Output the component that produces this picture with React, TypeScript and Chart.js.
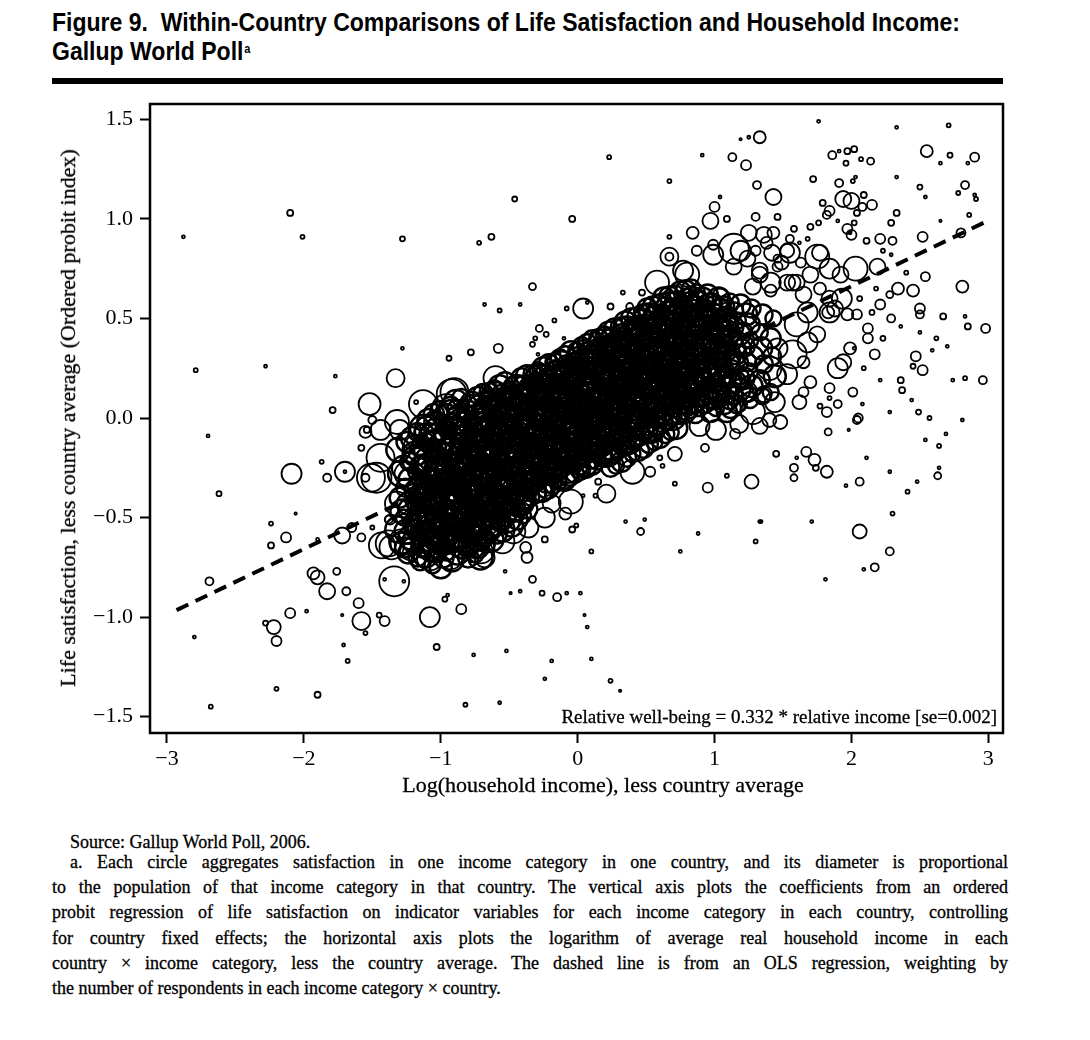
import React, { useEffect, useLayoutEffect, useRef } from "react";
import { Chart, registerables } from "chart.js";

Chart.register(...registerables);

// ---- axis ticks ----
const xTickValues = [-3, -2, -1, 0, 1, 2, 3];
const xTickLabels = ["\u22123", "\u22122", "\u22121", "0", "1", "2", "3"];
const yTickValues = [-1.5, -1, -0.5, 0, 0.5, 1, 1.5];
const yTickLabels = ["\u22121.5", "\u22121.0", "\u22120.5", "0.0", "0.5", "1.0", "1.5"];

// ---- OLS fit line (relative well-being = 0.332 * relative income) ----
const fitLineX = [-2.93, 2.98];
const fitLineY = [-0.965, 0.985];

// ---- circles: [log income less country avg, life sat less country avg, size] ----
const outliersLeft = [
  [-2.88,0.91,1.5],[-2.10,1.03,3],[-2.01,0.91,2],[-1.28,0.90,2.5],[-1.28,0.35,1.5],[-2.79,0.24,2],
  [-2.28,0.26,1.5],[-1.77,0.21,1.5],[-1.79,0.04,3],[-1.33,0.20,9],[-1.52,0.07,11],[-1.13,0.07,14],
  [-2.70,-0.09,1.5],[-2.62,-0.38,2.5],[-2.09,-0.28,10],[-1.87,-0.22,2],[-1.83,-0.30,4],[-1.70,-0.27,10],
  [-1.70,-0.27,1.5],[-1.58,-0.15,3],[-1.51,-0.30,14],[-1.44,-0.20,14],[-1.55,-0.07,6],[-1.30,-0.06,10],
  [-1.32,-0.02,12],[-2.24,-0.53,2],[-2.06,-0.48,1.2],[-2.13,-0.60,5],[-2.24,-0.64,3],[-1.90,-0.61,1.5],
  [-1.72,-0.59,8],[-1.65,-0.55,4.5],[-1.58,-0.60,4],[-1.50,-0.55,2],[-1.43,-0.64,13],[-1.36,-0.65,12],
  [-1.29,-0.62,12],[-1.38,-0.51,4],[-2.69,-0.82,4],[-1.93,-0.78,6],[-1.90,-0.80,7],[-1.83,-0.87,8],
  [-1.76,-0.77,3.5],[-1.69,-0.87,4],[-1.34,-0.82,15],[-1.41,-0.81,1.5],[-1.27,-0.82,1.5],[-1.60,-0.93,5],
  [-1.98,-0.97,1.5],[-2.10,-0.98,5],[-1.72,-0.99,1.2],[-1.58,-1.02,9],[-1.55,-1.08,2],[-1.45,-0.99,2.5],
  [-1.41,-1.02,5],[-1.08,-1.00,10],[-1.03,-1.15,3],[-2.22,-1.05,7],[-2.28,-1.03,2.5],[-2.20,-1.12,5],
  [-2.80,-1.10,1.5],[-1.71,-1.14,1.5],[-1.68,-1.22,2],[-2.20,-1.36,2],[-1.90,-1.39,3],[-2.68,-1.45,2],
  [-1.18,0.08,2],[-0.92,0.12,15],[-1.44,-0.06,10],[-1.54,-0.06,3],[-1.50,-0.01,4],[-1.55,-0.30,4],
  [-1.47,-0.30,15],[-1.17,-0.16,15],[-1.25,-0.28,12],[-1.37,-0.51,5],[-1.32,-0.43,12],[-1.38,-0.63,13],
  [-1.28,-0.63,12],[-1.22,-0.66,11],[-1.08,-0.70,13],[-0.93,-0.70,12],[-0.71,-0.66,14],[-1.10,-0.65,10]
];

const outliersBottom = [
  [-0.24,-0.61,3],[-0.38,-0.65,5.5],[-0.37,-0.70,5.5],[-0.53,-0.77,1.5],[-0.33,-0.81,3.5],[-0.49,-0.88,1.2],
  [-0.42,-0.87,1.5],[-0.26,-0.88,2.5],[-0.15,-0.90,4],[-0.08,-0.88,1.5],[0.02,-0.88,1.5],[0.05,-0.99,1.2],
  [0.07,-1.05,1.5],[0.10,-1.21,1.5],[0.24,-1.32,2],[0.31,-1.37,1.2],[-0.19,-1.22,1.5],[-0.24,-1.31,1.5],
  [-0.52,-1.17,1.5],[-0.76,-1.19,1.5],[-0.85,-0.96,5],[-0.97,-0.91,2.5],[-0.95,-0.89,1.5],[-0.82,-1.44,2],
  [-0.57,-1.43,1.5],[0.10,-0.67,2],[0.35,-0.52,1.5],[0.49,-0.51,1.5],[0.46,-0.57,3.5],[-0.04,-0.56,3],
  [-0.01,-0.54,2],[0.75,-0.67,1.5],[0.88,-0.58,1.5],[0.71,-0.33,2],[0.95,-0.35,5],[1.09,-0.29,2],
  [0.53,-0.27,5],[0.62,-0.24,2],[0.60,-0.20,2.5],[0.21,-0.38,9],[0.04,-0.39,1.5],[0.13,-0.39,2],
  [0.15,-0.32,3],[-0.19,-0.43,9],[-0.09,-0.48,6],[-0.47,-0.57,12],[1.27,-0.32,7],[1.45,-0.18,3],
  [1.34,-0.52,1.5],[1.30,-0.62,2],[0.40,-0.27,12],[0.71,-0.18,7],[0.93,-0.15,4],[1.15,-0.08,5],
  [0.02,-0.26,10],[-0.80,-0.62,14],[-0.55,-0.62,12],[-0.68,-0.70,10],[-0.36,-0.55,10],[-0.24,-0.50,10],
  [-0.05,-0.42,12],[1.13,0.12,10],[1.01,-0.06,10],[0.89,-0.04,10],[1.33,-0.04,8],[1.18,-0.03,9]
];

const outliersRight = [
  [1.40,-0.01,7],[1.60,-0.20,1.5],[1.67,-0.17,5],[1.73,-0.21,6],[1.74,-0.25,3],[1.58,-0.25,4],
  [1.58,-0.30,3.5],[1.82,-0.27,6],[1.83,-0.07,3.5],[1.98,-0.06,1.2],[2.04,-0.01,4],[2.11,-0.20,1.5],
  [1.96,-0.34,1.5],[2.06,-0.32,4],[2.28,-0.27,1.5],[2.41,-0.37,2],[2.48,-0.32,1.5],[2.54,-0.11,1.5],
  [2.64,-0.14,2],[2.69,-0.08,1.5],[2.64,-0.25,1.5],[2.63,-0.29,3.5],[2.81,-0.01,1.5],[2.30,-0.48,2],
  [2.06,-0.57,7],[2.28,-0.67,4],[2.17,-0.75,4],[2.09,-0.76,1.5],[1.81,-0.81,1.5],[1.71,-0.52,1.5],
  [1.33,-0.52,1.5],[1.48,-0.02,7],[2.01,0.13,4.5],[2.05,0.00,4.5],[2.08,0.07,1.5],[1.90,0.07,4],
  [1.84,0.10,2],[1.82,0.03,5],[1.77,0.06,2.5],[2.74,0.19,1.5],[2.83,0.20,2],[2.96,0.19,4],
  [2.28,0.03,1.5],[2.49,0.03,2.5],[2.57,0.00,2],[2.44,0.09,1.5],[2.36,0.19,3],[2.37,0.14,3],
  [2.21,0.19,1.5],[2.09,0.25,2],[2.47,0.31,5],[2.52,0.24,5],[2.45,0.26,2.5],[2.17,0.32,5],
  [2.02,0.35,1.5],[2.12,0.40,5],[2.23,0.40,2.5],[2.12,0.45,5],[2.04,0.52,5],[2.59,0.34,1.5],
  [2.70,0.36,1.5],[2.62,0.40,2],[2.50,0.43,1.5],[2.98,0.45,4.5],[2.85,0.46,3],[2.83,0.51,1.5],
  [2.67,0.51,3],[2.36,0.46,1.5],[2.29,0.50,4],[2.50,0.52,4],[2.50,0.55,5],[2.15,0.53,2.5],
  [2.21,0.57,5],[2.06,0.60,2.5],[1.93,0.60,10],[1.88,0.55,8],[1.83,0.53,6],[1.97,0.52,6]
];

const outliersTop = [
  [1.76,1.49,1.5],[2.33,1.46,1.5],[2.71,1.47,2],[1.33,1.41,6],[1.25,1.41,1.5],[1.19,1.40,1.2],
  [1.13,1.31,4],[1.23,1.27,5],[1.86,1.32,4],[1.91,1.34,1.5],[1.97,1.34,3],[2.02,1.35,3],
  [1.96,1.28,2.5],[2.07,1.30,2],[2.14,1.29,3.5],[2.55,1.34,6],[2.65,1.28,1.5],[2.72,1.32,2.5],
  [2.90,1.31,4.5],[2.85,1.28,1.5],[2.03,1.21,1.5],[2.01,1.19,2],[1.91,1.18,4],[1.72,1.20,3],
  [1.31,1.17,4],[1.43,1.11,8],[2.33,1.21,1.5],[2.50,1.16,2.5],[2.54,1.11,1.5],[2.83,1.17,4],
  [2.78,1.13,2],[2.90,1.12,1.5],[2.91,1.10,2],[1.94,1.10,8],[2.00,1.09,8],[2.09,1.12,3],
  [2.15,1.07,5],[1.79,1.08,3],[1.84,1.04,5],[1.82,1.02,4],[2.08,1.06,4],[2.04,1.03,3],
  [2.02,0.98,2.5],[1.90,0.99,1.5],[1.76,0.98,2.5],[1.70,0.96,3],[2.33,1.03,3],[2.29,0.98,3],
  [2.65,0.99,1.2],[2.86,1.02,2],[1.62,0.88,1.5],[1.68,0.90,2],[1.09,1.00,3],[1.30,1.01,4],
  [1.46,1.01,3],[1.58,0.95,3],[1.97,0.95,5],[1.99,0.93,1.5],[2.00,0.92,5],[2.11,0.89,3],
  [2.21,0.90,5],[2.30,0.89,4],[2.52,0.91,5],[2.80,0.93,4.5],[2.29,0.82,1.5],[2.23,0.84,2],
  [2.40,0.73,2],[2.54,0.71,4.5],[2.81,0.66,6],[2.18,0.65,2],[2.34,0.65,6],[2.45,0.64,6],
  [2.28,0.62,3.5],[2.03,0.75,12],[2.19,0.76,8],
  [0.23,1.31,2],[0.91,1.32,1.5],[0.67,1.19,2],[-0.46,1.10,2.5],[-0.04,1.00,3],[-0.63,0.91,3],
  [-0.72,0.88,2],[0.67,0.91,2],[1.00,1.06,5],[1.04,1.11,1.5],[0.97,0.99,8],[0.84,0.93,6],
  [0.67,0.81,9],[0.67,0.81,4],[0.87,0.84,5],[0.99,0.82,10],[0.80,0.72,12],[0.58,0.68,12],
  [-0.33,0.66,3.5],[-0.68,0.57,1.5],[-0.57,0.54,2],[-0.42,0.57,1.5],[0.04,0.55,10],[0.07,0.58,1.5],
  [-0.08,0.55,2],[0.24,0.56,3],[0.33,0.63,2],[0.47,0.63,3],[0.38,0.56,3.5],[0.51,0.53,8],
  [0.35,0.49,3.5],[0.41,0.49,2.5],[-0.17,0.49,2],[-0.28,0.45,3.5],[-0.23,0.42,2.5],[-0.31,0.40,2],
  [-0.33,0.37,2.5],[-0.10,0.40,1.5],[-0.29,0.32,1.5],[-0.58,0.35,4.5],[-0.78,0.33,3],[-0.94,0.30,2.5],
  [0.21,0.43,4],[-0.60,0.20,12],[-0.30,0.21,10],[-0.14,0.22,8],[-0.90,0.13,14],[-0.96,0.05,14],
  [0.14,0.30,8],[1.25,0.93,8],[1.43,0.93,6],[1.55,0.90,4],[0.99,0.87,5],[1.19,0.84,10],
  [1.30,0.84,5],[1.38,0.88,6],[1.53,0.84,7],[1.46,0.80,4],[0.77,0.74,10],[1.14,0.76,8],
  [1.33,0.74,8],[1.46,0.76,5],[1.57,0.68,8],[1.63,0.78,5],[1.28,0.66,8],[1.41,0.64,6],
  [1.04,0.61,8],[1.14,0.85,15],[1.36,0.92,8],[1.55,0.83,10],[1.42,0.83,8],[1.24,0.80,8],
  [1.49,0.78,7],[1.75,0.81,12],[1.77,0.83,8],[1.84,0.75,10],[1.92,0.72,8],[1.70,0.72,8],
  [1.60,0.68,8],[1.77,0.65,6],[1.65,0.62,8],[1.53,0.68,8],[1.41,0.68,10],[1.33,0.72,8],
  [1.68,0.53,10],[1.60,0.47,12],[1.84,0.60,8],[1.84,0.53,10],[1.75,0.42,8],[1.68,0.38,10],
  [1.57,0.32,14],[1.46,0.35,10],[1.40,0.25,12],[1.53,0.22,10],[1.65,0.28,6],[1.70,0.18,6],
  [1.65,0.13,5],[1.62,0.08,7],[1.44,0.08,10],[1.36,0.12,8],[1.84,0.15,5],[1.90,0.25,10],
  [1.94,0.28,8],[1.99,0.35,6],[1.24,0.13,10],[1.28,0.03,12],[1.18,0.07,8]
];

const cloudLeft = [
  [-1.31,-0.16,12],[-1.29,-0.28,13],[-1.30,-0.40,10],[-1.28,-0.47,12],[-1.31,-0.56,13],[-1.29,-0.63,11],
  [-1.25,-0.12,10],[-1.27,-0.25,12],[-1.26,-0.35,9],[-1.24,-0.43,11],[-1.27,-0.50,8],[-1.25,-0.57,12],[-1.26,-0.65,10],
  [-1.21,-0.10,11],[-1.23,-0.22,9],[-1.22,-0.31,12],[-1.20,-0.39,8],[-1.23,-0.46,11],[-1.21,-0.53,9],[-1.22,-0.60,12],[-1.24,-0.68,10],
  [-1.17,-0.07,9],[-1.19,-0.18,12],[-1.18,-0.27,8],[-1.16,-0.35,11],[-1.19,-0.42,9],[-1.17,-0.49,10],[-1.18,-0.55,8],[-1.20,-0.62,11],[-1.17,-0.70,9],
  [-1.13,-0.05,13],[-1.15,-0.15,9],[-1.14,-0.24,11],[-1.12,-0.32,8],[-1.15,-0.38,10],[-1.13,-0.45,9],[-1.14,-0.51,12],[-1.16,-0.58,8],[-1.13,-0.64,11],[-1.15,-0.72,9],
  [-1.09,-0.01,11],[-1.11,-0.12,9],[-1.10,-0.21,12],[-1.08,-0.29,8],[-1.11,-0.36,10],[-1.09,-0.43,9],[-1.10,-0.50,11],[-1.12,-0.56,8],[-1.09,-0.62,10],[-1.11,-0.69,12],
  [-1.05,0.02,10],[-1.07,-0.09,12],[-1.06,-0.18,8],[-1.04,-0.26,11],[-1.07,-0.33,9],[-1.05,-0.40,12],[-1.06,-0.47,8],[-1.08,-0.53,10],[-1.05,-0.59,9],[-1.07,-0.66,12],[-1.06,-0.74,8],
  [-1.01,0.04,9],[-1.03,-0.06,12],[-1.02,-0.15,8],[-1.00,-0.23,10],[-1.03,-0.30,9],[-1.01,-0.37,11],[-1.02,-0.44,8],[-1.04,-0.50,10],[-1.01,-0.56,9],[-1.03,-0.61,11],[-1.02,-0.67,8],[-1.00,-0.75,11],
  [-0.97,-0.03,9],[-0.99,-0.12,11],[-0.98,-0.20,8],[-0.96,-0.27,12],[-0.99,-0.34,9],[-0.97,-0.41,10],[-0.98,-0.47,8],[-1.00,-0.52,11],[-0.97,-0.58,9],[-0.99,-0.63,12],[-0.98,-0.70,10],
  [-0.93,0.05,11],[-0.95,-0.06,9],[-0.94,-0.14,10],[-0.92,-0.21,8],[-0.95,-0.28,12],[-0.93,-0.33,9],[-0.94,-0.39,10],[-0.96,-0.45,8],[-0.93,-0.51,11],[-0.95,-0.57,9],[-0.94,-0.63,10],[-0.92,-0.71,12],
  [-0.89,0.08,12],[-0.91,-0.02,9],[-0.90,-0.10,10],[-0.88,-0.17,8],[-0.91,-0.23,11],[-0.89,-0.30,9],[-0.90,-0.36,12],[-0.92,-0.42,8],[-0.89,-0.48,10],[-0.91,-0.54,9],[-0.90,-0.60,11],[-0.88,-0.67,13],
  [-0.85,0.10,9],[-0.87,0.01,11],[-0.86,-0.08,8],[-0.84,-0.15,10],[-0.87,-0.22,9],[-0.85,-0.28,11],[-0.86,-0.34,8],[-0.88,-0.40,12],[-0.85,-0.46,9],[-0.87,-0.52,10],[-0.86,-0.58,8],[-0.84,-0.65,11],
  [-0.81,0.04,10],[-0.83,-0.05,8],[-0.82,-0.12,11],[-0.80,-0.19,9],[-0.83,-0.25,12],[-0.81,-0.31,8],[-0.82,-0.37,10],[-0.84,-0.43,9],[-0.81,-0.49,11],[-0.83,-0.55,8],[-0.82,-0.61,12],[-0.80,-0.70,10],
  [-0.77,0.07,12],[-0.79,-0.02,8],[-0.78,-0.09,10],[-0.76,-0.16,9],[-0.79,-0.22,11],[-0.77,-0.28,8],[-0.78,-0.34,10],[-0.80,-0.40,9],[-0.77,-0.45,12],[-0.79,-0.51,8],[-0.78,-0.57,10],[-0.76,-0.64,12],
  [-0.73,0.10,11],[-0.75,0.02,9],[-0.74,-0.06,12],[-0.72,-0.13,8],[-0.75,-0.19,10],[-0.73,-0.25,9],[-0.74,-0.31,11],[-0.76,-0.37,8],[-0.73,-0.42,12],[-0.75,-0.48,9],[-0.74,-0.54,10],[-0.72,-0.60,13],[-0.75,-0.68,9],
  [-0.69,0.12,10],[-0.71,0.04,8],[-0.70,-0.03,11],[-0.68,-0.10,9],[-0.71,-0.17,10],[-0.69,-0.23,8],[-0.70,-0.29,12],[-0.72,-0.35,9],[-0.69,-0.41,10],[-0.71,-0.47,8],[-0.70,-0.53,11],[-0.68,-0.60,9],[-0.71,-0.70,12],
  [-0.65,0.13,9],[-0.67,0.05,12],[-0.66,-0.02,8],[-0.64,-0.09,10],[-0.67,-0.15,9],[-0.65,-0.21,11],[-0.66,-0.27,8],[-0.68,-0.33,10],[-0.65,-0.38,9],[-0.67,-0.44,12],[-0.66,-0.50,8],[-0.64,-0.56,11],[-0.67,-0.63,9],
  [-0.61,0.15,8],[-0.63,0.08,11],[-0.62,0.01,9],[-0.60,-0.06,10],[-0.63,-0.12,8],[-0.61,-0.18,12],[-0.62,-0.24,9],[-0.64,-0.30,10],[-0.61,-0.36,8],[-0.63,-0.42,11],[-0.62,-0.48,9],[-0.60,-0.54,10],[-0.63,-0.61,12],
  [-0.57,0.16,11],[-0.59,0.08,9],[-0.58,0.01,10],[-0.56,-0.05,8],[-0.59,-0.11,12],[-0.57,-0.17,9],[-0.58,-0.23,10],[-0.60,-0.29,8],[-0.57,-0.34,11],[-0.59,-0.40,9],[-0.58,-0.46,12],[-0.56,-0.52,8],[-0.59,-0.58,10],
  [-0.53,0.18,10],[-0.55,0.11,8],[-0.54,0.04,11],[-0.52,-0.02,9],[-0.55,-0.08,10],[-0.53,-0.14,8],[-0.54,-0.20,11],[-0.56,-0.26,9],[-0.53,-0.32,10],[-0.55,-0.38,8],[-0.54,-0.44,11],[-0.52,-0.50,9],[-0.55,-0.56,12],
  [-0.49,0.14,8],[-0.51,0.07,12],[-0.50,0.00,9],[-0.48,-0.06,10],[-0.51,-0.12,8],[-0.49,-0.18,11],[-0.50,-0.24,9],[-0.52,-0.30,10],[-0.49,-0.35,8],[-0.51,-0.41,12],[-0.50,-0.47,9],[-0.48,-0.54,11]
];

const cloudMid = [
  [-0.45,0.17,9],[-0.47,0.09,11],[-0.46,0.03,8],[-0.44,-0.03,10],[-0.47,-0.09,9],[-0.45,-0.15,11],[-0.46,-0.21,8],[-0.48,-0.27,10],[-0.45,-0.33,9],[-0.47,-0.39,11],[-0.46,-0.45,8],[-0.44,-0.51,10],
  [-0.41,0.20,10],[-0.43,0.12,9],[-0.42,0.05,11],[-0.40,-0.01,8],[-0.43,-0.07,10],[-0.41,-0.13,9],[-0.42,-0.19,12],[-0.44,-0.25,8],[-0.41,-0.31,10],[-0.43,-0.37,9],[-0.42,-0.43,11],[-0.40,-0.49,8],
  [-0.37,0.21,11],[-0.39,0.14,8],[-0.38,0.07,10],[-0.36,0.01,9],[-0.39,-0.05,11],[-0.37,-0.11,8],[-0.38,-0.17,10],[-0.40,-0.23,9],[-0.37,-0.29,11],[-0.39,-0.35,8],[-0.38,-0.41,10],[-0.36,-0.46,9],
  [-0.33,0.22,9],[-0.35,0.15,11],[-0.34,0.08,8],[-0.32,0.02,10],[-0.35,-0.04,9],[-0.33,-0.10,12],[-0.34,-0.16,8],[-0.36,-0.22,10],[-0.33,-0.28,9],[-0.35,-0.34,11],[-0.34,-0.40,8],
  [-0.29,0.24,8],[-0.31,0.17,10],[-0.30,0.10,9],[-0.28,0.04,11],[-0.31,-0.02,8],[-0.29,-0.08,10],[-0.30,-0.14,9],[-0.32,-0.20,11],[-0.29,-0.26,8],[-0.31,-0.32,10],[-0.30,-0.38,9],
  [-0.25,0.25,11],[-0.27,0.18,8],[-0.26,0.11,10],[-0.24,0.05,9],[-0.27,-0.01,11],[-0.25,-0.07,8],[-0.26,-0.13,10],[-0.28,-0.19,9],[-0.25,-0.25,12],[-0.27,-0.31,8],[-0.26,-0.37,10],
  [-0.21,0.27,10],[-0.23,0.20,9],[-0.22,0.13,11],[-0.20,0.07,8],[-0.23,0.01,10],[-0.21,-0.05,9],[-0.22,-0.11,11],[-0.24,-0.17,8],[-0.21,-0.23,10],[-0.23,-0.29,9],[-0.22,-0.35,11],
  [-0.17,0.28,9],[-0.19,0.21,10],[-0.18,0.14,8],[-0.16,0.08,11],[-0.19,0.02,9],[-0.17,-0.04,10],[-0.18,-0.10,8],[-0.20,-0.16,11],[-0.17,-0.22,9],[-0.19,-0.28,10],[-0.18,-0.34,8],
  [-0.13,0.30,9],[-0.15,0.23,11],[-0.14,0.16,8],[-0.12,0.10,10],[-0.15,0.04,9],[-0.13,-0.02,11],[-0.14,-0.08,8],[-0.16,-0.14,10],[-0.13,-0.20,9],[-0.15,-0.26,11],[-0.14,-0.32,8],
  [-0.09,0.31,10],[-0.11,0.24,9],[-0.10,0.17,11],[-0.08,0.11,8],[-0.11,0.05,10],[-0.09,-0.01,9],[-0.10,-0.07,12],[-0.12,-0.13,8],[-0.09,-0.19,10],[-0.11,-0.25,9],[-0.10,-0.31,11],
  [-0.05,0.33,11],[-0.07,0.26,8],[-0.06,0.19,10],[-0.04,0.13,9],[-0.07,0.07,11],[-0.05,0.01,8],[-0.06,-0.05,10],[-0.08,-0.11,9],[-0.05,-0.17,11],[-0.07,-0.23,8],[-0.06,-0.29,10],
  [-0.01,0.34,8],[-0.03,0.27,11],[-0.02,0.20,9],[0.00,0.14,10],[-0.03,0.08,8],[-0.01,0.02,11],[-0.02,-0.04,9],[-0.04,-0.10,10],[-0.01,-0.16,8],[-0.03,-0.22,11],[-0.02,-0.28,9],
  [0.03,0.36,9],[0.01,0.29,10],[0.02,0.22,8],[0.04,0.16,11],[0.01,0.10,9],[0.03,0.04,10],[0.02,-0.02,8],[0.00,-0.08,11],[0.03,-0.14,9],[0.01,-0.20,10],[0.02,-0.27,8],
  [0.07,0.37,10],[0.05,0.30,9],[0.06,0.23,11],[0.08,0.17,8],[0.05,0.11,10],[0.07,0.05,9],[0.06,-0.01,12],[0.04,-0.07,8],[0.07,-0.13,10],[0.05,-0.19,9],[0.06,-0.25,10],
  [0.11,0.39,10],[0.09,0.32,8],[0.10,0.25,11],[0.12,0.19,9],[0.09,0.13,10],[0.11,0.07,8],[0.10,0.01,11],[0.08,-0.05,9],[0.11,-0.11,10],[0.09,-0.17,8],[0.10,-0.23,11],
  [0.15,0.40,9],[0.13,0.33,11],[0.14,0.26,8],[0.16,0.20,10],[0.13,0.14,9],[0.15,0.08,11],[0.14,0.02,8],[0.12,-0.04,10],[0.15,-0.10,9],[0.13,-0.16,11],[0.14,-0.22,8],
  [0.19,0.42,8],[0.17,0.35,11],[0.18,0.28,9],[0.20,0.22,10],[0.17,0.16,8],[0.19,0.10,11],[0.18,0.04,9],[0.16,-0.02,10],[0.19,-0.08,8],[0.17,-0.14,11],[0.18,-0.20,9],
  [0.23,0.43,11],[0.21,0.36,8],[0.22,0.29,10],[0.24,0.23,9],[0.21,0.17,12],[0.23,0.11,8],[0.22,0.05,10],[0.20,-0.01,9],[0.23,-0.07,11],[0.21,-0.13,8],[0.22,-0.19,10],[0.24,-0.25,9],
  [0.27,0.45,10],[0.25,0.38,9],[0.26,0.31,11],[0.28,0.25,8],[0.25,0.19,10],[0.27,0.13,9],[0.26,0.07,11],[0.24,0.01,8],[0.27,-0.05,10],[0.25,-0.11,9],[0.26,-0.17,11],[0.28,-0.24,8],
  [0.31,0.46,9],[0.29,0.39,10],[0.30,0.32,8],[0.32,0.26,11],[0.29,0.20,9],[0.31,0.14,10],[0.30,0.08,8],[0.28,0.02,11],[0.31,-0.04,9],[0.29,-0.10,10],[0.30,-0.16,8],[0.32,-0.22,10],
  [0.35,0.48,11],[0.33,0.41,8],[0.34,0.34,10],[0.36,0.28,9],[0.33,0.22,11],[0.35,0.16,8],[0.34,0.10,10],[0.32,0.04,9],[0.35,-0.02,11],[0.33,-0.08,8],[0.34,-0.14,10],[0.36,-0.20,9],
  [0.39,0.50,10],[0.37,0.43,9],[0.38,0.36,11],[0.40,0.30,8],[0.37,0.24,10],[0.39,0.18,9],[0.38,0.12,12],[0.36,0.06,8],[0.39,0.00,10],[0.37,-0.06,9],[0.38,-0.12,11],[0.40,-0.18,8],
  [0.43,0.51,9],[0.41,0.44,10],[0.42,0.38,8],[0.44,0.32,11],[0.41,0.26,9],[0.43,0.20,10],[0.42,0.14,8],[0.40,0.08,11],[0.43,0.02,9],[0.41,-0.04,10],[0.42,-0.10,8],[0.44,-0.16,11]
];

const cloudRight = [
  [0.47,0.53,8],[0.45,0.46,11],[0.46,0.39,9],[0.48,0.33,10],[0.45,0.27,8],[0.47,0.21,11],[0.46,0.15,9],[0.44,0.09,10],[0.47,0.03,8],[0.45,-0.03,11],[0.46,-0.09,9],[0.48,-0.15,10],
  [0.51,0.55,10],[0.49,0.48,8],[0.50,0.41,11],[0.52,0.35,9],[0.49,0.29,10],[0.51,0.23,8],[0.50,0.17,11],[0.48,0.11,9],[0.51,0.05,10],[0.49,-0.01,8],[0.50,-0.07,11],[0.52,-0.13,9],
  [0.55,0.56,10],[0.53,0.49,9],[0.54,0.42,11],[0.56,0.36,8],[0.53,0.30,10],[0.55,0.24,9],[0.54,0.18,12],[0.52,0.12,8],[0.55,0.06,10],[0.53,0.00,9],[0.54,-0.06,11],[0.56,-0.12,8],
  [0.59,0.58,8],[0.57,0.51,11],[0.58,0.44,9],[0.60,0.38,10],[0.57,0.32,8],[0.59,0.26,11],[0.58,0.20,9],[0.56,0.14,10],[0.59,0.08,8],[0.57,0.02,11],[0.58,-0.04,9],[0.60,-0.10,10],
  [0.63,0.60,11],[0.61,0.53,8],[0.62,0.46,10],[0.64,0.40,9],[0.61,0.34,11],[0.63,0.28,8],[0.62,0.22,10],[0.60,0.16,9],[0.63,0.10,11],[0.61,0.04,8],[0.62,-0.02,10],[0.64,-0.08,9],
  [0.67,0.61,10],[0.65,0.54,9],[0.66,0.48,11],[0.68,0.42,8],[0.65,0.36,10],[0.67,0.30,9],[0.66,0.24,11],[0.64,0.18,8],[0.67,0.12,10],[0.65,0.06,9],[0.66,0.00,11],[0.68,-0.07,8],
  [0.71,0.62,9],[0.69,0.55,10],[0.70,0.49,8],[0.72,0.43,11],[0.69,0.37,9],[0.71,0.31,10],[0.70,0.25,8],[0.68,0.19,11],[0.71,0.13,9],[0.69,0.07,10],[0.70,0.01,8],[0.72,-0.05,11],
  [0.75,0.63,11],[0.73,0.56,8],[0.74,0.50,10],[0.76,0.44,9],[0.73,0.38,11],[0.75,0.32,8],[0.74,0.26,10],[0.72,0.20,9],[0.75,0.14,11],[0.73,0.08,8],[0.74,0.02,10],
  [0.79,0.64,10],[0.77,0.57,9],[0.78,0.51,11],[0.80,0.45,8],[0.77,0.39,10],[0.79,0.33,9],[0.78,0.27,12],[0.76,0.21,8],[0.79,0.15,10],[0.77,0.09,9],[0.78,0.03,11],
  [0.83,0.65,9],[0.81,0.58,10],[0.82,0.52,8],[0.84,0.46,11],[0.81,0.40,9],[0.83,0.34,10],[0.82,0.28,8],[0.80,0.22,11],[0.83,0.16,9],[0.81,0.10,10],[0.82,0.04,8],
  [0.87,0.63,8],[0.85,0.56,11],[0.86,0.50,9],[0.88,0.44,10],[0.85,0.38,8],[0.87,0.32,11],[0.86,0.26,9],[0.84,0.20,10],[0.87,0.14,8],[0.85,0.08,11],[0.86,0.02,9],
  [0.91,0.60,11],[0.89,0.53,8],[0.90,0.47,10],[0.92,0.41,9],[0.89,0.35,11],[0.91,0.29,8],[0.90,0.23,10],[0.88,0.17,9],[0.91,0.11,11],[0.89,0.05,8],
  [0.95,0.62,10],[0.93,0.55,9],[0.94,0.49,11],[0.96,0.43,8],[0.93,0.37,10],[0.95,0.31,9],[0.94,0.25,11],[0.92,0.19,8],[0.95,0.13,10],[0.93,0.07,9],
  [0.99,0.58,9],[0.97,0.51,10],[0.98,0.45,8],[1.00,0.39,11],[0.97,0.33,9],[0.99,0.27,10],[0.98,0.21,8],[0.96,0.15,11],[0.99,0.09,9],[0.97,0.03,10],
  [1.03,0.60,11],[1.01,0.53,8],[1.02,0.47,10],[1.04,0.41,9],[1.01,0.35,11],[1.03,0.29,8],[1.02,0.23,10],[1.00,0.17,9],[1.03,0.11,11],[1.01,0.05,8],
  [1.07,0.56,10],[1.05,0.49,9],[1.06,0.43,11],[1.08,0.37,8],[1.05,0.31,10],[1.07,0.25,9],[1.06,0.19,11],[1.04,0.13,8],[1.07,0.07,10],
  [1.11,0.58,9],[1.09,0.51,10],[1.10,0.45,8],[1.12,0.39,11],[1.09,0.33,9],[1.11,0.27,10],[1.10,0.21,8],[1.08,0.15,11],[1.11,0.09,9],[1.09,0.03,10],
  [1.15,0.54,8],[1.13,0.46,11],[1.14,0.39,9],[1.16,0.32,10],[1.13,0.25,8],[1.15,0.18,11],[1.14,0.11,9],[1.12,0.05,10],
  [1.19,0.57,10],[1.17,0.49,8],[1.18,0.42,11],[1.20,0.35,9],[1.17,0.28,10],[1.19,0.21,8],[1.18,0.14,11],[1.16,0.07,9],
  [1.23,0.52,11],[1.21,0.44,8],[1.22,0.36,10],[1.24,0.28,9],[1.21,0.20,11],[1.23,0.12,8],
  [1.27,0.55,9],[1.25,0.47,11],[1.26,0.39,8],[1.28,0.31,10],[1.25,0.23,9],[1.27,0.16,11],[1.26,0.09,8],
  [1.35,0.52,10],[1.33,0.43,8],[1.34,0.35,11],[1.36,0.27,9],[1.33,0.19,10],[1.35,0.11,8],
  [1.43,0.50,8],[1.41,0.40,10],[1.42,0.31,9],[1.44,0.21,11],[1.41,0.13,8]
];

const cloudInner = [
  [-1.12,-0.08,10],[-1.13,-0.16,9],[-1.11,-0.25,11],[-1.12,-0.33,10],[-1.13,-0.41,12],[-1.11,-0.49,9],[-1.12,-0.57,11],[-1.13,-0.65,10],
  [-1.04,-0.02,11],[-1.05,-0.11,9],[-1.03,-0.20,12],[-1.04,-0.28,10],[-1.05,-0.36,9],[-1.03,-0.44,11],[-1.04,-0.52,10],[-1.05,-0.60,12],[-1.03,-0.68,9],
  [-0.96,0.01,12],[-0.97,-0.08,10],[-0.95,-0.17,9],[-0.96,-0.25,11],[-0.97,-0.32,10],[-0.95,-0.39,12],[-0.96,-0.46,9],[-0.97,-0.53,11],[-0.95,-0.60,10],[-0.96,-0.67,9],
  [-0.88,0.04,10],[-0.89,-0.05,12],[-0.87,-0.13,9],[-0.88,-0.20,11],[-0.89,-0.27,10],[-0.87,-0.34,9],[-0.88,-0.41,11],[-0.89,-0.48,12],[-0.87,-0.55,9],[-0.88,-0.62,10],
  [-0.80,0.01,9],[-0.81,-0.08,11],[-0.79,-0.15,10],[-0.80,-0.22,12],[-0.81,-0.29,9],[-0.79,-0.36,11],[-0.80,-0.43,10],[-0.81,-0.50,9],[-0.79,-0.57,12],[-0.80,-0.65,10],
  [-0.72,0.06,11],[-0.73,-0.02,10],[-0.71,-0.10,9],[-0.72,-0.17,12],[-0.73,-0.24,10],[-0.71,-0.31,9],[-0.72,-0.38,11],[-0.73,-0.45,10],[-0.71,-0.52,12],[-0.72,-0.59,9],[-0.73,-0.65,11],
  [-0.64,0.09,10],[-0.65,0.01,12],[-0.63,-0.07,9],[-0.64,-0.14,11],[-0.65,-0.21,10],[-0.63,-0.28,9],[-0.64,-0.35,11],[-0.65,-0.42,10],[-0.63,-0.49,12],[-0.64,-0.56,9],
  [-0.56,0.12,9],[-0.57,0.04,11],[-0.55,-0.03,10],[-0.56,-0.10,12],[-0.57,-0.17,9],[-0.55,-0.24,11],[-0.56,-0.31,10],[-0.57,-0.38,9],[-0.55,-0.45,11],[-0.56,-0.52,10],
  [-0.48,0.11,11],[-0.49,0.03,10],[-0.47,-0.04,9],[-0.48,-0.11,12],[-0.49,-0.18,10],[-0.47,-0.25,9],[-0.48,-0.32,11],[-0.49,-0.39,10],[-0.47,-0.46,12],
  [-0.40,0.16,10],[-0.41,0.08,9],[-0.39,0.01,11],[-0.40,-0.06,10],[-0.41,-0.13,12],[-0.39,-0.20,9],[-0.40,-0.27,11],[-0.41,-0.34,10],[-0.39,-0.41,9],
  [-0.32,0.18,9],[-0.33,0.11,11],[-0.31,0.04,10],[-0.32,-0.03,12],[-0.33,-0.10,9],[-0.31,-0.17,11],[-0.32,-0.24,10],[-0.33,-0.31,9],[-0.31,-0.37,11],
  [-0.24,0.21,11],[-0.25,0.14,10],[-0.23,0.07,9],[-0.24,0.00,12],[-0.25,-0.07,10],[-0.23,-0.14,9],[-0.24,-0.21,11],[-0.25,-0.28,10],[-0.23,-0.33,9],
  [-0.16,0.24,10],[-0.17,0.17,9],[-0.15,0.10,11],[-0.16,0.03,10],[-0.17,-0.04,12],[-0.15,-0.11,9],[-0.16,-0.18,11],[-0.17,-0.25,10],[-0.15,-0.30,9],
  [-0.08,0.27,9],[-0.09,0.20,11],[-0.07,0.13,10],[-0.08,0.06,12],[-0.09,-0.01,9],[-0.07,-0.08,11],[-0.08,-0.15,10],[-0.09,-0.22,9],[-0.07,-0.27,11],
  [0.00,0.30,11],[-0.01,0.23,10],[0.01,0.16,9],[0.00,0.09,12],[-0.01,0.02,10],[0.01,-0.05,9],[0.00,-0.12,11],[-0.01,-0.19,10],[0.01,-0.24,9],
  [0.08,0.33,10],[0.07,0.26,9],[0.09,0.19,11],[0.08,0.12,10],[0.07,0.05,12],[0.09,-0.02,9],[0.08,-0.09,11],[0.07,-0.16,10],[0.09,-0.21,9],
  [0.16,0.36,9],[0.15,0.29,11],[0.17,0.22,10],[0.16,0.15,12],[0.15,0.08,9],[0.17,0.01,11],[0.16,-0.06,10],[0.15,-0.13,9],[0.17,-0.18,11],
  [0.24,0.39,11],[0.23,0.32,10],[0.25,0.25,9],[0.24,0.18,12],[0.23,0.11,10],[0.25,0.04,9],[0.24,-0.03,11],[0.23,-0.10,10],[0.25,-0.17,9],
  [0.32,0.42,10],[0.31,0.35,9],[0.33,0.28,11],[0.32,0.21,10],[0.31,0.14,12],[0.33,0.07,9],[0.32,0.00,11],[0.31,-0.07,10],[0.33,-0.14,9],
  [0.40,0.46,9],[0.39,0.39,11],[0.41,0.32,10],[0.40,0.25,12],[0.39,0.18,9],[0.41,0.11,11],[0.40,0.04,10],[0.39,-0.03,9],[0.41,-0.10,11],
  [0.48,0.49,11],[0.47,0.42,10],[0.49,0.35,9],[0.48,0.28,12],[0.47,0.21,10],[0.49,0.14,9],[0.48,0.07,11],[0.47,0.00,10],[0.49,-0.07,9],
  [0.56,0.52,10],[0.55,0.45,9],[0.57,0.38,11],[0.56,0.31,10],[0.55,0.24,12],[0.57,0.17,9],[0.56,0.10,11],[0.55,0.03,10],[0.57,-0.04,9],
  [0.64,0.56,9],[0.63,0.49,11],[0.65,0.42,10],[0.64,0.35,12],[0.63,0.28,9],[0.65,0.21,11],[0.64,0.14,10],[0.63,0.07,9],[0.65,0.00,11],
  [0.72,0.58,11],[0.71,0.51,10],[0.73,0.44,9],[0.72,0.37,12],[0.71,0.30,10],[0.73,0.23,9],[0.72,0.16,11],[0.71,0.09,10],[0.73,0.02,9],
  [0.80,0.60,10],[0.79,0.53,9],[0.81,0.46,11],[0.80,0.39,10],[0.79,0.32,12],[0.81,0.25,9],[0.80,0.18,11],[0.79,0.11,10],[0.81,0.06,9],
  [0.88,0.59,9],[0.87,0.52,11],[0.89,0.45,10],[0.88,0.38,12],[0.87,0.31,9],[0.89,0.24,11],[0.88,0.17,10],[0.87,0.10,9],
  [0.96,0.57,11],[0.95,0.50,10],[0.97,0.43,9],[0.96,0.36,12],[0.95,0.29,10],[0.97,0.22,9],[0.96,0.15,11],[0.95,0.10,10],
  [1.04,0.55,10],[1.03,0.48,9],[1.05,0.41,11],[1.04,0.34,10],[1.03,0.27,12],[1.05,0.20,9],[1.04,0.13,11]
];

const cloudDeep = [
  [-1.16,-0.12,6],[-1.17,-0.21,15],[-1.15,-0.29,5],[-1.16,-0.37,14],[-1.17,-0.45,7],[-1.15,-0.53,15],[-1.16,-0.61,5],
  [-1.08,-0.06,15],[-1.09,-0.15,6],[-1.07,-0.24,14],[-1.08,-0.32,5],[-1.09,-0.40,16],[-1.07,-0.48,7],[-1.08,-0.56,14],[-1.09,-0.64,6],
  [-1.00,-0.01,6],[-1.01,-0.10,15],[-0.99,-0.18,5],[-1.00,-0.26,14],[-1.01,-0.34,7],[-0.99,-0.42,16],[-1.00,-0.50,5],[-1.01,-0.58,14],[-0.99,-0.65,6],
  [-0.92,0.02,14],[-0.93,-0.07,6],[-0.91,-0.15,15],[-0.92,-0.23,5],[-0.93,-0.31,14],[-0.91,-0.38,7],[-0.92,-0.46,15],[-0.93,-0.53,5],[-0.91,-0.60,14],
  [-0.84,0.06,6],[-0.85,-0.03,15],[-0.83,-0.11,5],[-0.84,-0.19,14],[-0.85,-0.26,7],[-0.83,-0.33,16],[-0.84,-0.41,5],[-0.85,-0.48,14],[-0.83,-0.56,6],[-0.84,-0.63,15],
  [-0.76,0.04,15],[-0.77,-0.04,6],[-0.75,-0.12,14],[-0.76,-0.19,5],[-0.77,-0.26,15],[-0.75,-0.33,7],[-0.76,-0.40,14],[-0.77,-0.47,5],[-0.75,-0.54,16],[-0.76,-0.61,6],
  [-0.68,0.08,6],[-0.69,0.00,14],[-0.67,-0.07,5],[-0.68,-0.14,15],[-0.69,-0.21,7],[-0.67,-0.28,14],[-0.68,-0.35,5],[-0.69,-0.42,15],[-0.67,-0.49,6],[-0.68,-0.56,14],
  [-0.60,0.11,14],[-0.61,0.03,6],[-0.59,-0.04,15],[-0.60,-0.11,5],[-0.61,-0.18,14],[-0.59,-0.25,7],[-0.60,-0.32,16],[-0.61,-0.39,5],[-0.59,-0.46,14],[-0.60,-0.53,6],
  [-0.52,0.13,6],[-0.53,0.06,15],[-0.51,-0.01,5],[-0.52,-0.08,14],[-0.53,-0.15,7],[-0.51,-0.22,15],[-0.52,-0.29,5],[-0.53,-0.36,14],[-0.51,-0.43,6],[-0.52,-0.50,15],
  [-0.44,0.14,15],[-0.45,0.07,6],[-0.43,0.00,14],[-0.44,-0.07,5],[-0.45,-0.14,16],[-0.43,-0.21,7],[-0.44,-0.28,14],[-0.45,-0.35,5],[-0.43,-0.42,15],
  [-0.36,0.17,6],[-0.37,0.10,14],[-0.35,0.03,5],[-0.36,-0.04,15],[-0.37,-0.11,7],[-0.35,-0.18,14],[-0.36,-0.25,5],[-0.37,-0.32,15],[-0.35,-0.38,6],
  [-0.28,0.20,14],[-0.29,0.13,6],[-0.27,0.06,15],[-0.28,-0.01,5],[-0.29,-0.08,14],[-0.27,-0.15,7],[-0.28,-0.22,16],[-0.29,-0.29,5],[-0.27,-0.35,14],
  [-0.20,0.23,6],[-0.21,0.16,15],[-0.19,0.09,5],[-0.20,0.02,14],[-0.21,-0.05,7],[-0.19,-0.12,15],[-0.20,-0.19,5],[-0.21,-0.26,14],[-0.19,-0.31,6],
  [-0.12,0.26,15],[-0.13,0.19,6],[-0.11,0.12,14],[-0.12,0.05,5],[-0.13,-0.02,16],[-0.11,-0.09,7],[-0.12,-0.16,14],[-0.13,-0.23,5],[-0.11,-0.28,15],
  [-0.04,0.29,6],[-0.05,0.22,14],[-0.03,0.15,5],[-0.04,0.08,15],[-0.05,0.01,7],[-0.03,-0.06,14],[-0.04,-0.13,5],[-0.05,-0.20,15],[-0.03,-0.25,6],
  [0.04,0.32,14],[0.03,0.25,6],[0.05,0.18,15],[0.04,0.11,5],[0.03,0.04,14],[0.05,-0.03,7],[0.04,-0.10,16],[0.03,-0.17,5],[0.05,-0.22,14],
  [0.12,0.35,6],[0.11,0.28,15],[0.13,0.21,5],[0.12,0.14,14],[0.11,0.07,7],[0.13,0.00,15],[0.12,-0.07,5],[0.11,-0.14,14],[0.13,-0.19,6],
  [0.20,0.38,15],[0.19,0.31,6],[0.21,0.24,14],[0.20,0.17,5],[0.19,0.10,16],[0.21,0.03,7],[0.20,-0.04,14],[0.19,-0.11,5],[0.21,-0.17,15],
  [0.28,0.41,6],[0.27,0.34,14],[0.29,0.27,5],[0.28,0.20,15],[0.27,0.13,7],[0.29,0.06,14],[0.28,-0.01,5],[0.27,-0.08,15],[0.29,-0.14,6],
  [0.36,0.44,14],[0.35,0.37,6],[0.37,0.30,15],[0.36,0.23,5],[0.35,0.16,14],[0.37,0.09,7],[0.36,0.02,16],[0.35,-0.05,5],[0.37,-0.11,14],
  [0.44,0.47,6],[0.43,0.40,15],[0.45,0.33,5],[0.44,0.26,14],[0.43,0.19,7],[0.45,0.12,15],[0.44,0.05,5],[0.43,-0.02,14],[0.45,-0.08,6],
  [0.52,0.50,15],[0.51,0.43,6],[0.53,0.36,14],[0.52,0.29,5],[0.51,0.22,16],[0.53,0.15,7],[0.52,0.08,14],[0.51,0.01,5],[0.53,-0.05,15],
  [0.60,0.53,6],[0.59,0.46,14],[0.61,0.39,5],[0.60,0.32,15],[0.59,0.25,7],[0.61,0.18,14],[0.60,0.11,5],[0.59,0.04,15],[0.61,-0.02,6],
  [0.68,0.56,14],[0.67,0.49,6],[0.69,0.42,15],[0.68,0.35,5],[0.67,0.28,14],[0.69,0.21,7],[0.68,0.14,16],[0.67,0.07,5],[0.69,0.01,14],
  [0.76,0.58,6],[0.75,0.51,15],[0.77,0.44,5],[0.76,0.37,14],[0.75,0.30,7],[0.77,0.23,15],[0.76,0.16,5],[0.75,0.09,14],
  [0.84,0.58,15],[0.83,0.51,6],[0.85,0.44,14],[0.84,0.37,5],[0.83,0.30,16],[0.85,0.23,7],[0.84,0.16,14],[0.83,0.09,5],
  [0.92,0.56,6],[0.91,0.49,14],[0.93,0.42,5],[0.92,0.35,15],[0.91,0.28,7],[0.93,0.21,14],[0.92,0.14,5],
  [1.00,0.54,14],[0.99,0.47,6],[1.01,0.40,15],[1.00,0.33,5],[0.99,0.26,14],[1.01,0.19,7],[1.00,0.12,15],
  [1.08,0.52,6],[1.07,0.45,14],[1.09,0.38,5],[1.08,0.31,15],[1.07,0.24,7],[1.09,0.17,14]
];

const outlierGroups = [outliersLeft, outliersBottom, outliersRight, outliersTop];
const cloudGroups = [cloudLeft, cloudMid, cloudRight, cloudInner, cloudDeep];

const SERIF = '"Liberation Serif", "Times New Roman", serif';
const SANS = '"Liberation Sans", Arial, sans-serif';

const framePlugin = {
  id: "frame",
  afterDatasetsDraw(chart: any) {
    const { ctx, chartArea } = chart;
    const { left, top, right, bottom } = chartArea;
    ctx.save();
    ctx.strokeStyle = "#000";
    ctx.lineWidth = 2.5;
    ctx.strokeRect(left, top, right - left, bottom - top);
    ctx.restore();
  },
};

function toBubbles(groups: number[][][]) {
  const out: any[] = [];
  groups.forEach((g) => g.forEach((p) => out.push({ x: p[0], y: p[1], r: p[2] })));
  return out;
}

function ChartCanvas() {
  const ref = useRef<HTMLCanvasElement | null>(null);
  useEffect(() => {
    if (!ref.current) return;
    const chart = new Chart(ref.current, {
      type: "bubble",
      data: {
        datasets: [
          {
            type: "line",
            data: fitLineX.map((x, i) => ({ x, y: fitLineY[i] })),
            borderColor: "#000",
            borderWidth: 4,
            borderDash: [13, 8],
            pointRadius: 0,
            fill: false,
            order: 0,
          } as any,
          {
            type: "bubble",
            data: toBubbles(outlierGroups),
            backgroundColor: "rgba(0,0,0,0)",
            borderColor: "#000",
            borderWidth: 1.8,
            hoverRadius: 0,
            order: 1,
          } as any,
          {
            type: "bubble",
            data: toBubbles(cloudGroups),
            backgroundColor: "rgba(0,0,0,0)",
            borderColor: "#000",
            borderWidth: 2.5,
            hoverRadius: 0,
            order: 2,
          } as any,
        ],
      },
      options: {
        responsive: false,
        animation: false,
        events: [],
        layout: { padding: { left: 0, top: 104, right: 87, bottom: 37 } },
        plugins: { legend: { display: false }, tooltip: { enabled: false } },
        scales: {
          x: {
            type: "linear",
            min: -3.124,
            max: 3.107,
            afterBuildTicks: (s: any) => {
              s.ticks = xTickValues.map((v) => ({ value: v }));
            },
            afterFit: (s: any) => {
              s.height = 40;
            },
            ticks: {
              callback: (v: any) => xTickLabels[xTickValues.indexOf(Number(v))] ?? "",
              font: { family: SERIF, size: 22 },
              color: "#000",
              padding: 3,
              maxRotation: 0,
              autoSkip: false,
            },
            grid: { drawOnChartArea: false, drawTicks: true, tickLength: 10, tickWidth: 2, tickColor: "#000", color: "#000" },
            border: { display: false },
          },
          y: {
            type: "linear",
            min: -1.582,
            max: 1.577,
            afterBuildTicks: (s: any) => {
              s.ticks = yTickValues.map((v) => ({ value: v }));
            },
            afterFit: (s: any) => {
              s.width = 150;
            },
            ticks: {
              callback: (v: any) => yTickLabels[yTickValues.indexOf(Number(v))] ?? "",
              font: { family: SERIF, size: 22 },
              color: "#000",
              padding: 7,
              autoSkip: false,
            },
            grid: { drawOnChartArea: false, drawTicks: true, tickLength: 10, tickWidth: 2, tickColor: "#000", color: "#000" },
            border: { display: false },
          },
        },
      },
      plugins: [framePlugin],
    });
    return () => chart.destroy();
  }, []);
  return <canvas ref={ref} width={1090} height={810} style={{ position: "absolute", left: 0, top: 0 }} />;
}

const titleLine1 = "Figure 9.  Within-Country Comparisons of Life Satisfaction and Household Income:";
const titleLine2 = "Gallup World Poll";

const noteLines = [
  "a. Each circle aggregates satisfaction in one income category in one country, and its diameter is proportional",
  "to the population of that income category in that country. The vertical axis plots the coefficients from an ordered",
  "probit regression of life satisfaction on indicator variables for each income category in each country, controlling",
  "for country fixed effects; the horizontal axis plots the logarithm of average real household income in each",
  "country \u00d7 income category, less the country average.  The dashed line is from an OLS regression, weighting by",
  "the number of respondents in each income category \u00d7 country.",
];

function Title() {
  const ref = useRef<HTMLDivElement | null>(null);
  const l1 = useRef<HTMLSpanElement | null>(null);
  useLayoutEffect(() => {
    if (!ref.current || !l1.current) return;
    const w = l1.current.getBoundingClientRect().width;
    if (w > 0) ref.current.style.transform = `scaleX(${908 / w})`;
  }, []);
  return (
    <div
      ref={ref}
      style={{
        position: "absolute",
        left: 52,
        top: 9,
        fontFamily: SANS,
        fontWeight: 700,
        fontSize: 25,
        lineHeight: "27px",
        whiteSpace: "pre",
        transformOrigin: "0 0",
      }}
    >
      <span ref={l1}>{titleLine1}</span>
      {"\n"}
      <span>{titleLine2}</span>
      <sup style={{ fontSize: 12, verticalAlign: "7px", marginLeft: 1 }}>a</sup>
    </div>
  );
}

const textInk = { WebkitTextStroke: "0.3px #000" } as any;

export default function App() {
  return (
    <div style={{ position: "absolute", left: 0, top: 0, width: 1090, height: 1040, background: "#fff", overflow: "hidden", color: "#000" }}>
      <Title />
      <div style={{ position: "absolute", left: 52, top: 78, width: 951, height: 6, background: "#000" }} />
      <ChartCanvas />
      <div style={{ position: "absolute", left: 68, top: 418, transform: "translate(-50%, -50%) rotate(-90deg)", fontFamily: SERIF, fontSize: 22, whiteSpace: "nowrap", ...textInk }}>
        Life satisfaction, less country average (Ordered probit index)
      </div>
      <div style={{ position: "absolute", left: 603, top: 785, transform: "translate(-50%, -50%)", fontFamily: SERIF, fontSize: 22, whiteSpace: "nowrap", ...textInk }}>
        Log(household income), less country average
      </div>
      <div style={{ position: "absolute", right: 93, top: 705, fontFamily: SERIF, fontSize: 19, lineHeight: "24px", whiteSpace: "nowrap", ...textInk }}>
        Relative well-being = 0.332 * relative income [se=0.002]
      </div>
      <div style={{ position: "absolute", left: 70, top: 830, fontFamily: SERIF, fontSize: 18, lineHeight: "24px", whiteSpace: "nowrap", ...textInk }}>
        Source: Gallup World Poll, 2006.
      </div>
      <div style={{ position: "absolute", left: 52, top: 850, width: 956, fontFamily: SERIF, fontSize: 18, lineHeight: "25.2px", ...textInk }}>
        {noteLines.map((t, i) => {
          const last = i === noteLines.length - 1;
          return (
            <div
              key={i}
              style={{
                textAlign: last ? "left" : "justify",
                textAlignLast: last ? "left" : "justify",
                paddingLeft: i === 0 ? 18 : 0,
                whiteSpace: last ? "nowrap" : "normal",
              } as any}
            >
              {t}
            </div>
          );
        })}
      </div>
    </div>
  );
}
